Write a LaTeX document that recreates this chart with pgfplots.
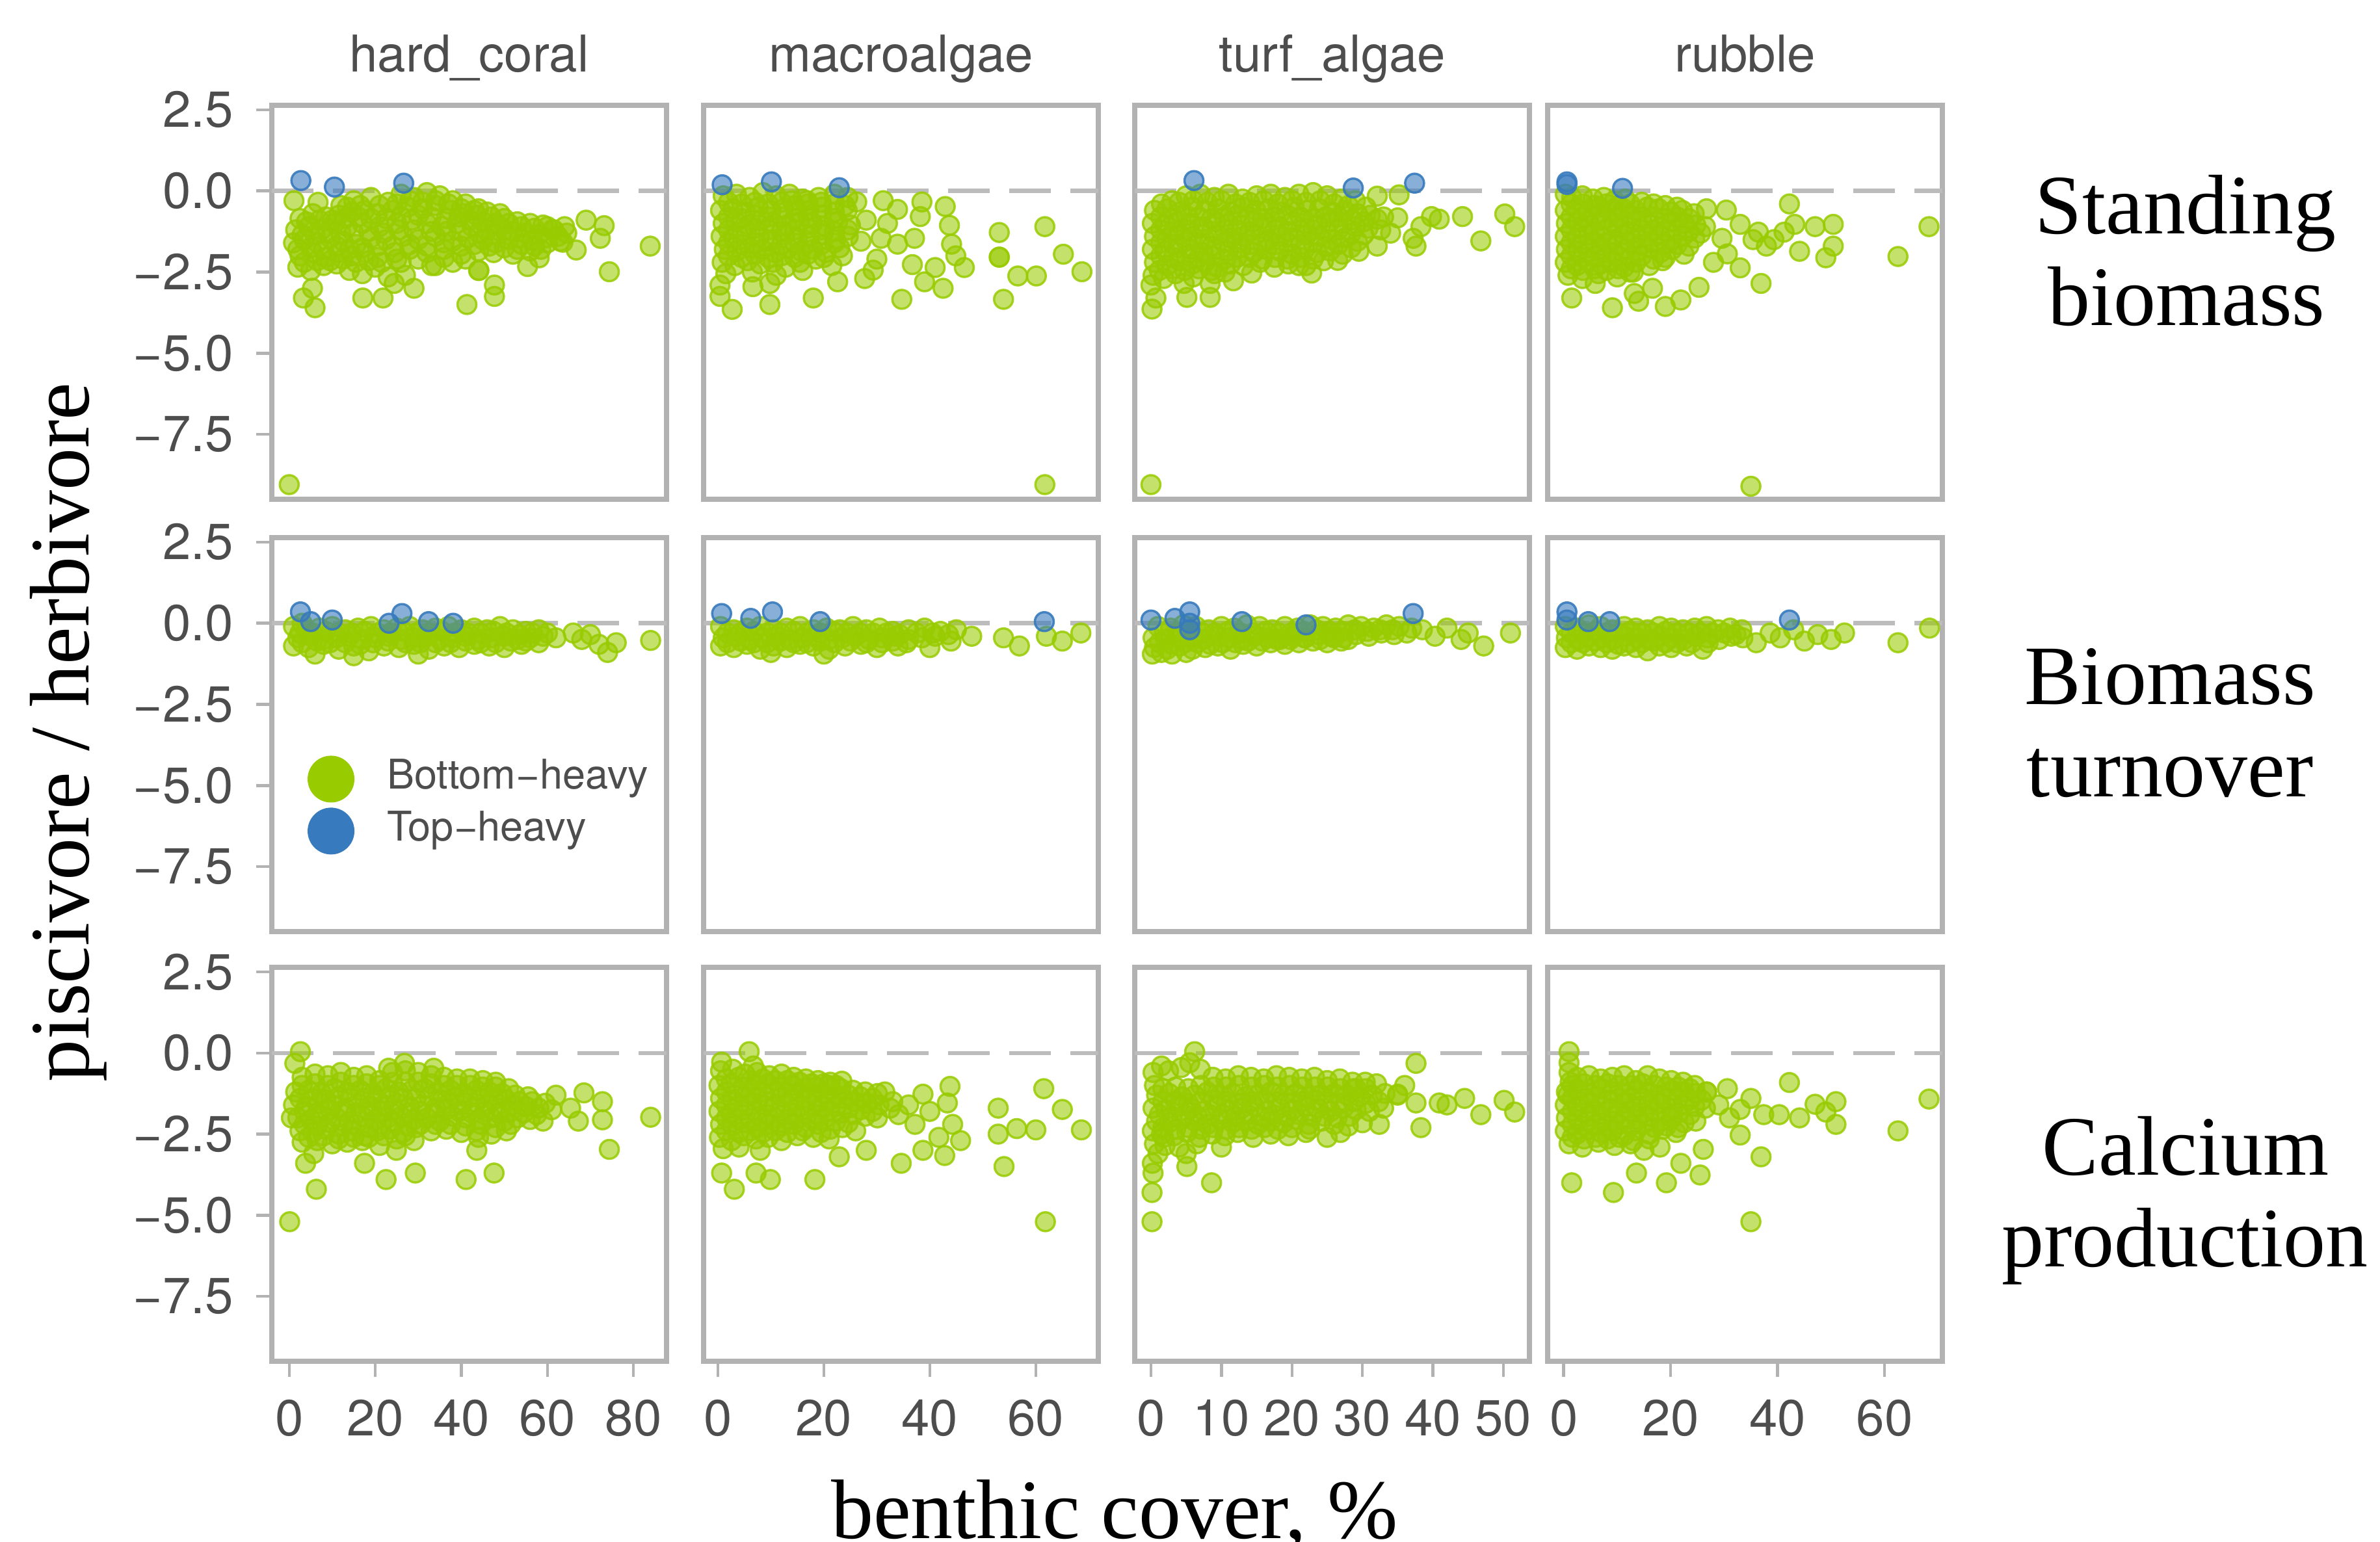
\documentclass[border=0pt]{standalone}
\usepackage{fontspec}
\setmainfont{Liberation Serif}
\newfontfamily\hv{TeX Gyre Heros}
\usepackage{pgfplots}
\pgfplotsset{compat=1.18}
\definecolor{boxgray}{RGB}{178,178,178}
\definecolor{zgray}{RGB}{188,188,188}
\definecolor{labgray}{RGB}{77,77,77}
\definecolor{bgreen}{RGB}{152,203,0}
\definecolor{bblue}{RGB}{55,122,189}
\pgfplotsset{
  panel/.style={scale only axis, width=60.7pt, height=60.6pt, anchor=south west,
    ymin=-9.5, ymax=2.64,
    axis line style={draw=boxgray, line width=0.8pt},
    tick style={draw=boxgray, line width=0.45pt},
    tick align=outside, major tick length=2.4pt,
    xtick pos=lower, ytick pos=lower,
    xtick=\empty, ytick=\empty,
    ticklabel style={font=\hv\fontsize{7.8}{9}\selectfont, text=labgray},
    every axis title shift=0pt,
    title style={font=\hv\fontsize{7.8}{9}\selectfont, text=labgray, at={(0.5,1)}, anchor=base, yshift=5.1pt, inner sep=0pt},
  },
  c1/.style={xmin=-4.05, xmax=87.7},
  c2/.style={xmin=-2.7, xmax=71.8},
  c3/.style={xmin=-2.3, xmax=53.7},
  c4/.style={xmin=-3.0, xmax=70.8},
  yt/.style={ytick={-7.5,-5,-2.5,0,2.5}, yticklabels={−7.5,−5.0,−2.5,0.0,2.5}},
  xt1/.style={xtick={0,20,40,60,80}, xticklabels={0,20,40,60,80}},
  xt2/.style={xtick={0,20,40,60}, xticklabels={0,20,40,60}},
  xt3/.style={xtick={0,10,20,30,40,50}, xticklabels={0,10,20,30,40,50}},
  gp/.style={only marks, mark=*, mark size=1.45pt, mark options={fill=bgreen, draw=bgreen, fill opacity=0.58, draw opacity=0.85, line width=0.35pt}, forget plot},
  bp/.style={only marks, mark=*, mark size=1.45pt, mark options={fill=bblue, draw=bblue, fill opacity=0.6, draw opacity=0.9, line width=0.35pt}, forget plot},
  zl/.style={draw=zgray, line width=0.65pt, dash pattern=on 6.4pt off 3pt, forget plot, mark=none},
  lgimg/.style={legend image code/.code={\path[draw=none,fill=none] (-3.4pt,-3.4pt) rectangle (3.4pt,3.4pt); \draw[##1] plot coordinates {(0pt,0pt)};}},
}
\begin{document}
\begin{tikzpicture}
\path[use as bounding box] (0,0) rectangle (366pt,237.2pt);
% ================= ROW 1: Standing biomass =================
\begin{axis}[panel, c1, yt, at={(41.8pt,160.4pt)}, title={hard\_coral}]
\addplot[zl] coordinates {(-4.05,0)(87.7,0)};
\addplot[gp] coordinates {
(12,-0.45)(15,-0.3)(19,-0.2)(23,-0.35)(26,-0.1)(29,-0.2)(32,-0.05)(35,-0.15)(38,-0.3)(41,-0.4)(44,-0.55)
(2.5,-0.85)(5.5,-0.7)(8.5,-0.8)(11.5,-0.75)(14.5,-0.65)(17.5,-0.6)(20.5,-0.7)(24,-0.6)(27.5,-0.5)(31,-0.55)(34,-0.45)(37.5,-0.6)(40.5,-0.7)(43.5,-0.75)(47,-0.8)(50,-0.85)(53,-0.95)(56,-1.0)(59,-1.05)
(1.5,-1.2)(4.5,-1.1)(7.5,-1.2)(10.5,-1.0)(13.5,-1.1)(17,-1.0)(21,-1.1)(25,-1.0)(28.5,-0.9)(32,-1.0)(35.5,-1.1)(39,-1.0)(42.5,-1.1)(46,-1.2)(49,-1.1)(52,-1.25)(55,-1.3)(58,-1.35)(61.5,-1.2)(64.5,-1.3)
(1,-1.6)(3.5,-1.5)(6.5,-1.6)(9.5,-1.45)(12.5,-1.55)(15.5,-1.65)(19,-1.45)(22.5,-1.5)(26.5,-1.4)(30,-1.5)(34,-1.4)(38,-1.55)(41.5,-1.45)(45,-1.5)(48,-1.6)(51,-1.5)(54,-1.65)(57,-1.7)(60,-1.6)(63,-1.55)
(2.5,-2.0)(5.5,-1.9)(8.5,-2.05)(11.5,-1.9)(14.5,-2.0)(17.5,-1.9)(20.5,-2.05)(24.5,-1.9)(28,-1.8)(32,-1.9)(36,-1.8)(40,-1.95)(44,-1.85)(47.5,-1.9)(52,-1.95)(56,-1.85)
(2,-2.35)(5,-2.45)(8,-2.3)(11,-2.25)(14,-2.45)(17,-2.55)(20,-2.35)(23,-2.65)(26,-2.2)(34,-2.3)(38,-2.2)(44,-2.45)
(13.5,-0.5)(16.5,-0.45)(21,-0.45)(25,-0.4)(28,-0.3)(31,-0.35)(34,-0.3)(37,-0.4)(40,-0.55)(43,-0.6)(46,-0.65)(49,-0.7)
(4,-0.95)(7,-0.9)(10,-0.9)(13,-0.85)(16,-0.8)(19,-0.85)(22.5,-0.85)(26,-0.8)(30,-0.75)(33,-0.8)(36.5,-0.85)(39.5,-0.8)(42,-0.9)(45,-0.95)(48,-1.0)(51,-1.0)(54,-1.1)(57,-1.15)(60,-1.1)
(3,-1.35)(6,-1.35)(9,-1.3)(12,-1.3)(15,-1.3)(18.5,-1.25)(22,-1.3)(25.5,-1.2)(29,-1.2)(33,-1.25)(36.5,-1.25)(40,-1.25)(44,-1.3)(47,-1.35)(50.5,-1.35)(53.5,-1.45)(56.5,-1.5)(59.5,-1.45)(62.5,-1.4)
(2,-1.8)(5,-1.75)(8,-1.8)(11,-1.7)(14,-1.8)(17,-1.75)(20.5,-1.7)(24,-1.7)(28,-1.65)(32,-1.7)(36,-1.6)(40,-1.7)(43,-1.65)(46.5,-1.7)(50,-1.75)(53,-1.8)(58.5,-1.8)
(3.5,-2.2)(6.5,-2.15)(9.5,-2.15)(12.5,-2.1)(15.5,-2.2)(18.5,-2.15)(21.5,-2.2)(25,-2.1)(30,-2.1)(36,-2.05)(41,-2.1)
(1.1,-0.3)(6.7,-0.35)(69,-0.9)(73.2,-1.07)(72.3,-1.46)(74.4,-2.49)(83.9,-1.7)(5.4,-3.0)(3.3,-3.3)(6.0,-3.6)(17.1,-3.3)(21.8,-3.3)(24.4,-2.85)(29,-3.0)(27,-2.6)(33.1,-2.3)(41.3,-3.5)(47.7,-2.9)(47.7,-3.25)(44.1,-2.45)(55.4,-2.33)(58.1,-2.06)(66.7,-1.82)(63.6,-1.58)(61.2,-1.19)(64,-1.1)(0,-9.05)
};
\addplot[bp] coordinates {(2.7,0.32)(10.5,0.12)(26.6,0.24)};
\end{axis}
\begin{axis}[panel, c2, at={(108.2pt,160.4pt)}, title={macroalgae}]
\addplot[zl] coordinates {(-2.7,0)(71.8,0)};
\addplot[gp] coordinates {
(1,-0.15)(3.5,-0.1)(6,-0.2)(8.5,-0.05)(11,-0.15)(13.5,-0.1)(16,-0.25)(19,-0.2)(22,-0.1)(24.5,-0.2)
(0.5,-0.6)(2.8,-0.55)(5.2,-0.65)(7.6,-0.5)(10,-0.6)(12.4,-0.55)(14.8,-0.65)(17.2,-0.6)(19.6,-0.5)(22,-0.65)(24.4,-0.6)
(1,-1.0)(3.4,-0.95)(5.8,-1.05)(8.2,-0.9)(10.6,-1.0)(13,-1.05)(15.4,-0.95)(17.8,-1.0)(20.2,-1.1)(22.6,-0.95)(25,-1.05)
(0.6,-1.4)(3,-1.45)(5.4,-1.35)(7.8,-1.4)(10.2,-1.5)(12.6,-1.35)(15,-1.45)(17.4,-1.4)(19.8,-1.35)(22.2,-1.5)(24.6,-1.4)
(1.2,-1.8)(3.6,-1.85)(6,-1.75)(8.4,-1.8)(10.8,-1.9)(13.2,-1.75)(15.6,-1.85)(18,-1.8)(20.4,-1.9)(23,-1.75)
(0.8,-2.2)(3.2,-2.3)(5.6,-2.15)(8,-2.25)(10.4,-2.2)(12.8,-2.35)(15.5,-2.2)(18.5,-2.1)(21.5,-2.3)(23.5,-2.0)
(1.5,-2.55)(6.5,-2.5)(11,-2.6)(16,-2.45)
(2,-0.35)(4.5,-0.4)(7,-0.35)(9.5,-0.4)(12,-0.35)(14.5,-0.45)(17,-0.4)(19.5,-0.35)(22,-0.4)(24,-0.45)
(2,-0.8)(4.5,-0.85)(7,-0.75)(9.5,-0.8)(12,-0.8)(14.5,-0.85)(17,-0.8)(19.5,-0.75)(22,-0.85)
(2,-1.2)(4.5,-1.25)(7,-1.15)(9.5,-1.2)(12,-1.25)(14.5,-1.2)(17,-1.15)(19.5,-1.2)(22,-1.25)(24.5,-1.2)
(2,-1.6)(4.5,-1.65)(7,-1.6)(9.5,-1.55)(12,-1.65)(14.5,-1.6)(17,-1.6)(19.5,-1.65)(22,-1.6)
(2,-2.0)(4.5,-2.05)(7,-1.95)(9.5,-2.05)(12,-2.0)(14.5,-2.05)(17,-1.95)(20,-2.05)
(0.4,-2.9)(0.4,-3.25)(2.7,-3.65)(6.6,-2.95)(9.8,-2.85)(9.8,-3.5)(18,-3.3)(22.6,-2.8)(14,-0.3)(16.8,-0.3)(26.2,-0.34)(31.2,-0.3)(33.9,-0.57)(38.5,-0.34)(38.2,-0.79)(42.9,-0.48)(43.7,-1.06)(44.1,-1.64)(44.9,-2.0)(46.5,-2.36)(42.5,-3.0)(39,-2.8)(34.7,-3.34)(36.7,-2.27)(41,-2.36)(27.7,-2.7)(29.3,-2.44)(30.8,-1.46)(33.9,-1.64)(37.1,-1.46)(27,-1.55)(30,-2.1)(28,-0.9)(32,-1.0)(53.1,-1.28)(53.1,-2.04)(53.1,-2.04)(53.9,-3.34)(56.6,-2.62)(60.1,-2.62)(61.7,-1.1)(65.2,-1.95)(68.7,-2.49)(61.7,-9.05)
};
\addplot[bp] coordinates {(0.8,0.19)(10.1,0.28)(22.9,0.1)};
\end{axis}
\begin{axis}[panel, c3, at={(174.5pt,160.4pt)}, title={turf\_algae}]
\addplot[zl] coordinates {(-2.3,0)(53.7,0)};
\addplot[gp] coordinates {
(3,-0.3)(5,-0.15)(7,-0.1)(9,-0.2)(11,-0.1)(13,-0.25)(15,-0.15)(17,-0.1)(19,-0.2)(21,-0.1)(23,-0.05)(25,-0.15)(27,-0.25)(29,-0.3)
(0.5,-0.6)(2.3,-0.55)(4.1,-0.65)(5.9,-0.5)(7.7,-0.6)(9.5,-0.55)(11.3,-0.65)(13.1,-0.5)(14.9,-0.6)(16.7,-0.55)(18.5,-0.65)(20.3,-0.5)(22.1,-0.6)(23.9,-0.55)(25.7,-0.65)(27.5,-0.6)(29.3,-0.7)(31.1,-0.75)(33,-0.8)
(0.2,-1.0)(2,-1.05)(3.8,-0.95)(5.6,-1.0)(7.4,-1.1)(9.2,-0.95)(11,-1.0)(12.8,-1.05)(14.6,-0.95)(16.4,-1.0)(18.2,-1.1)(20,-0.95)(21.8,-1.0)(23.6,-1.05)(25.4,-0.95)(27.2,-1.0)(29,-1.1)(30.8,-1.15)(32.6,-1.2)
(0.5,-1.4)(2.3,-1.45)(4.1,-1.35)(5.9,-1.4)(7.7,-1.5)(9.5,-1.35)(11.3,-1.45)(13.1,-1.4)(14.9,-1.35)(16.7,-1.5)(18.5,-1.4)(20.3,-1.45)(22.1,-1.35)(23.9,-1.4)(25.7,-1.5)(27.5,-1.45)(29.3,-1.55)
(0.2,-1.8)(2,-1.85)(3.8,-1.75)(5.6,-1.8)(7.4,-1.9)(9.2,-1.8)(11,-1.85)(12.8,-1.75)(14.6,-1.9)(16.4,-1.8)(18.2,-1.85)(20,-1.95)(21.8,-1.8)(23.6,-1.9)(25.4,-1.85)(27.2,-1.95)
(0.5,-2.2)(2.3,-2.3)(4.1,-2.15)(5.9,-2.25)(7.7,-2.2)(9.5,-2.35)(11.3,-2.25)(13.1,-2.3)(15.5,-2.2)(17.5,-2.35)(19.5,-2.25)(22,-2.3)(24.5,-2.15)
(0.3,-2.6)(1.8,-2.7)(3.5,-2.55)(6,-2.65)(9,-2.55)
(1.5,-0.4)(4,-0.35)(6,-0.3)(8,-0.35)(10,-0.3)(12,-0.4)(14,-0.35)(16,-0.3)(18,-0.4)(20,-0.3)(22,-0.35)(24,-0.3)(26,-0.4)(28,-0.45)(30.5,-0.5)
(1.4,-0.8)(3.2,-0.85)(5,-0.75)(6.8,-0.8)(8.6,-0.85)(10.4,-0.8)(12.2,-0.75)(14,-0.8)(15.8,-0.85)(17.6,-0.8)(19.4,-0.75)(21.2,-0.8)(23,-0.85)(24.8,-0.8)(26.6,-0.8)(28.4,-0.9)(30.2,-0.95)
(1.4,-1.2)(3.2,-1.25)(5,-1.2)(6.8,-1.15)(8.6,-1.25)(10.4,-1.2)(12.2,-1.2)(14,-1.25)(15.8,-1.15)(17.6,-1.2)(19.4,-1.25)(21.2,-1.2)(23,-1.2)(24.8,-1.25)(26.6,-1.2)(28.4,-1.3)(30.2,-1.35)
(1.4,-1.6)(3.2,-1.65)(5,-1.55)(6.8,-1.6)(8.6,-1.7)(10.4,-1.6)(12.2,-1.6)(14,-1.65)(15.8,-1.6)(17.6,-1.65)(19.4,-1.6)(21.2,-1.65)(23,-1.6)(24.8,-1.7)(26.6,-1.65)(28.4,-1.75)
(1.4,-2.0)(3.2,-2.05)(5,-2.0)(6.8,-2.05)(8.6,-2.0)(10.4,-2.1)(12.2,-2.05)(14,-2.05)(15.8,-2.1)(17.6,-2.05)(19.4,-2.1)(21.2,-2.05)(23,-2.1)
(1.2,-2.45)(3,-2.4)(4.8,-2.45)(6.8,-2.4)(8.6,-2.45)(10.5,-2.5)
(0.15,-3.64)(0.7,-3.3)(0,-2.9)(5.1,-3.28)(8.4,-3.28)(8.4,-2.85)(11.7,-2.77)(4.7,-2.85)(14.3,-2.53)(21,-2.3)(22.8,-2.53)(26.5,-2.14)(29.5,-1.86)(32.1,-1.7)(32.1,-0.87)(35,-0.83)(32.1,-0.16)(35.2,-0.12)(37.2,-1.46)(37.6,-1.7)(39.8,-0.79)(40.9,-0.87)(44.2,-0.79)(46.8,-1.54)(50.2,-0.71)(51.6,-1.1)(38.3,-1.1)(34,-1.3)(0,-9.05)
};
\addplot[bp] coordinates {(6.1,0.32)(28.7,0.09)(37.4,0.24)};
\end{axis}
\begin{axis}[panel, c4, at={(238.0pt,160.4pt)}, title={rubble}]
\addplot[zl] coordinates {(-3.0,0)(70.8,0)};
\addplot[gp] coordinates {
(0.3,-0.1)(1.5,-0.2)(3.5,-0.15)(5.5,-0.25)(7.5,-0.2)(9.5,-0.3)(11.5,-0.25)
(0.3,-0.6)(2.4,-0.55)(4.6,-0.65)(6.8,-0.5)(9,-0.6)(11.2,-0.55)(13.4,-0.6)(15.6,-0.5)(17.8,-0.55)(20,-0.65)(22.2,-0.6)(24.4,-0.7)
(0.5,-1.0)(2.7,-0.95)(4.9,-1.05)(7.1,-0.9)(9.3,-1.0)(11.5,-1.05)(13.7,-0.95)(15.9,-1.0)(18.1,-1.1)(20.3,-0.95)(22.5,-1.0)(24.7,-1.05)(26.5,-1.1)
(0.3,-1.4)(2.5,-1.45)(4.7,-1.35)(6.9,-1.4)(9.1,-1.5)(11.3,-1.35)(13.5,-1.45)(15.7,-1.4)(17.9,-1.35)(20.1,-1.5)(22.3,-1.4)(24.5,-1.45)
(0.5,-1.8)(2.7,-1.85)(4.9,-1.75)(7.1,-1.8)(9.3,-1.9)(11.5,-1.8)(13.7,-1.85)(15.9,-1.75)(18.1,-1.9)(20.3,-1.8)(22.5,-1.95)
(0.3,-2.2)(2.5,-2.3)(4.7,-2.15)(6.9,-2.25)(9.1,-2.2)(11.3,-2.35)(13.5,-2.2)(16,-2.3)(18.5,-2.15)
(0.8,-2.6)(3.5,-2.7)(6.5,-2.55)(10,-2.65)(13,-2.5)
(1.4,-0.4)(3.6,-0.4)(5.8,-0.45)(8,-0.4)(10.2,-0.45)(12.4,-0.4)(14.6,-0.35)(16.8,-0.4)(19,-0.45)(21.2,-0.5)
(1.4,-0.8)(3.6,-0.8)(5.8,-0.75)(8,-0.85)(10.2,-0.8)(12.4,-0.75)(14.6,-0.8)(16.8,-0.8)(19,-0.85)(21.2,-0.8)(23.4,-0.85)
(1.4,-1.2)(3.6,-1.15)(5.8,-1.25)(8,-1.2)(10.2,-1.15)(12.4,-1.25)(14.6,-1.2)(16.8,-1.2)(19,-1.25)(21.2,-1.2)(23.4,-1.25)(25.6,-1.3)
(1.4,-1.6)(3.6,-1.65)(5.8,-1.6)(8,-1.6)(10.2,-1.65)(12.4,-1.6)(14.6,-1.65)(16.8,-1.6)(19,-1.65)(21.2,-1.65)(23.4,-1.7)
(1.4,-2.0)(3.6,-2.05)(5.8,-2.0)(8,-2.05)(10.2,-2.0)(12.4,-2.05)(14.6,-2.0)(16.8,-2.1)(19,-2.05)
(1.4,-2.4)(3.6,-2.45)(5.8,-2.4)(8,-2.45)(10.2,-2.4)(12.4,-2.5)
(1.5,-3.3)(9.1,-3.6)(13.2,-3.16)(14,-3.4)(19,-3.56)(21.9,-3.36)(25.3,-2.97)(16.6,-3.0)(5.9,-2.85)(26.7,-0.55)(30.4,-0.59)(33,-1.03)(36.4,-1.27)(37.9,-1.7)(42.2,-0.4)(43.2,-1.03)(44.1,-1.86)(47,-1.1)(50.4,-1.03)(50.4,-1.7)(49,-2.06)(36.9,-2.85)(33,-2.37)(30.6,-1.94)(29.6,-1.46)(35.4,-1.5)(62.5,-2.02)(68.3,-1.1)(41.2,-1.27)(39.3,-1.5)(28,-2.2)(35,-9.1)
};
\addplot[bp] coordinates {(0.6,0.28)(0.6,0.2)(11,0.08)};
\end{axis}
% ================= ROW 2: Biomass turnover =================
\begin{axis}[panel, c1, yt, at={(41.8pt,93.9pt)},
  legend style={at={(0.094,0.4455)}, anchor=north west, draw=none, fill=none, inner sep=0pt, outer sep=0pt,
    row sep=0.9pt, column sep=4.7pt, font=\hv\fontsize{6.3}{7}\selectfont, text=labgray, nodes={inner sep=0.5pt}},
  legend cell align=left]
\addlegendimage{lgimg, only marks, mark=*, mark size=3.4pt, color=bgreen, mark options={draw=bgreen, fill=bgreen}}
\addlegendentry{Bottom−heavy}
\addlegendimage{lgimg, only marks, mark=*, mark size=3.4pt, color=bblue, mark options={draw=bblue, fill=bblue}}
\addlegendentry{Top−heavy}
\addplot[zl] coordinates {(-4.05,0)(87.7,0)};
\addplot[gp] coordinates {
(1,-0.1)(4,-0.2)(7,-0.15)(10,-0.1)(13,-0.2)(16,-0.15)(19,-0.1)(22,-0.2)(25,-0.15)(28,-0.1)(31,-0.2)(34,-0.15)(37,-0.1)(40,-0.2)(43,-0.15)(46,-0.2)(49,-0.1)(52,-0.2)(55,-0.25)(58,-0.2)
(2,-0.45)(5,-0.4)(8,-0.5)(11,-0.45)(14,-0.4)(17,-0.5)(20,-0.45)(23,-0.4)(26,-0.5)(29,-0.45)(32,-0.4)(35,-0.5)(38,-0.45)(41,-0.4)(44,-0.5)(47,-0.45)(50,-0.4)(53,-0.5)(56,-0.45)(59,-0.4)(62,-0.45)
(1,-0.7)(4.5,-0.75)(8,-0.65)(11.5,-0.8)(15,-0.7)(18.5,-0.85)(22,-0.7)(25.5,-0.75)(29,-0.65)(32.5,-0.8)(36,-0.7)(39.5,-0.75)(43,-0.65)(46.5,-0.7)(50,-0.75)(54,-0.65)
(2.5,-0.3)(5.5,-0.3)(8.5,-0.25)(11.5,-0.3)(14.5,-0.3)(17.5,-0.25)(20.5,-0.3)(23.5,-0.3)(26.5,-0.25)(29.5,-0.3)(32.5,-0.3)(35.5,-0.25)(38.5,-0.3)(41.5,-0.3)(44.5,-0.3)(47.5,-0.25)(50.5,-0.3)(53.5,-0.35)(56.5,-0.3)(60,-0.3)
(3,-0.6)(6.5,-0.55)(9.5,-0.6)(13,-0.6)(16.5,-0.65)(19.5,-0.6)(23,-0.55)(27,-0.6)(30.5,-0.6)(34,-0.6)(37.5,-0.6)(41,-0.55)(44.5,-0.6)(48,-0.6)(51.5,-0.55)(55,-0.55)(58,-0.6)
(66,-0.3)(68,-0.5)(70,-0.35)(72,-0.65)(74,-0.9)(76,-0.6)(84,-0.53)(6,-0.95)(15,-1.0)(30,-0.95)(3,0.0)
};
\addplot[bp] coordinates {(2.6,0.35)(5,0.05)(10,0.1)(23.2,0.0)(26.2,0.3)(32.4,0.05)(38.1,0.0)};
\end{axis}
\begin{axis}[panel, c2, at={(108.2pt,93.9pt)}]
\addplot[zl] coordinates {(-2.7,0)(71.8,0)};
\addplot[gp] coordinates {
(0.5,-0.1)(3,-0.2)(5.5,-0.15)(8,-0.1)(10.5,-0.2)(13,-0.15)(15.5,-0.1)(18,-0.2)(20.5,-0.15)(23,-0.2)(25.5,-0.1)(28,-0.2)(30.5,-0.15)(33,-0.25)(36,-0.2)(39,-0.15)(42,-0.25)(45,-0.2)
(1,-0.45)(3.5,-0.4)(6,-0.5)(8.5,-0.45)(11,-0.4)(13.5,-0.5)(16,-0.45)(18.5,-0.4)(21,-0.5)(23.5,-0.45)(26,-0.4)(28.5,-0.5)(31,-0.45)(33.5,-0.4)(36,-0.5)(38.5,-0.45)(41,-0.4)
(0.5,-0.7)(3,-0.75)(5.5,-0.65)(8,-0.8)(10.5,-0.7)(13,-0.75)(15.5,-0.65)(18,-0.7)(21,-0.8)(24,-0.7)(27,-0.65)(30,-0.75)(34,-0.7)
(1.8,-0.3)(4.3,-0.3)(6.8,-0.25)(9.3,-0.3)(11.8,-0.3)(14.3,-0.25)(16.8,-0.3)(19.3,-0.3)(21.8,-0.25)(24.3,-0.3)(26.8,-0.3)(29.3,-0.3)(31.8,-0.3)(34.3,-0.35)(37.5,-0.3)(40.5,-0.3)(43.5,-0.35)
(1.8,-0.6)(4.3,-0.55)(6.8,-0.6)(9.3,-0.6)(11.8,-0.55)(14.3,-0.6)(16.8,-0.6)(19.3,-0.55)(22,-0.6)(25,-0.55)(28,-0.6)(31,-0.6)(33,-0.55)
(35.6,-0.6)(40,-0.75)(44,-0.55)(47.9,-0.4)(53.9,-0.45)(56.9,-0.7)(62,-0.4)(65,-0.55)(68.5,-0.3)(10,-0.9)(20,-0.95)
};
\addplot[bp] coordinates {(0.7,0.3)(6.2,0.15)(10.3,0.35)(19.3,0.05)(61.6,0.05)};
\end{axis}
\begin{axis}[panel, c3, at={(174.5pt,93.9pt)}]
\addplot[zl] coordinates {(-2.3,0)(53.7,0)};
\addplot[gp] coordinates {
(1,-0.1)(2.8,-0.15)(4.6,-0.05)(6.4,-0.1)(8.2,-0.2)(10,-0.1)(11.8,-0.15)(13.6,-0.05)(15.4,-0.1)(17.2,-0.2)(19,-0.1)(20.8,-0.15)(22.6,-0.05)(24.4,-0.1)(26.2,-0.15)(28,-0.05)(29.8,-0.1)(31.6,-0.15)(33.4,-0.05)(35.2,-0.1)(37,-0.15)
(0.3,-0.45)(2.1,-0.5)(3.9,-0.4)(5.7,-0.45)(7.5,-0.5)(9.3,-0.4)(11.1,-0.45)(12.9,-0.5)(14.7,-0.4)(16.5,-0.45)(18.3,-0.5)(20.1,-0.4)(21.9,-0.45)(23.7,-0.35)(25.5,-0.4)(27.3,-0.45)(29.1,-0.35)(30.9,-0.4)(32.7,-0.3)(34.5,-0.35)(36.3,-0.3)
(0.5,-0.75)(2.3,-0.8)(4.1,-0.7)(5.9,-0.8)(7.7,-0.75)(9.5,-0.7)(11.3,-0.8)(13.1,-0.65)(15,-0.7)(17,-0.6)(19,-0.65)(21,-0.6)(23,-0.55)(25,-0.6)(27,-0.55)
(0.2,-0.95)(1.5,-0.9)(3,-0.95)(5,-0.9)
(1.9,-0.3)(3.7,-0.3)(5.5,-0.25)(7.3,-0.3)(9.1,-0.3)(10.9,-0.25)(12.7,-0.3)(14.5,-0.3)(16.3,-0.25)(18.1,-0.3)(19.9,-0.3)(21.7,-0.25)(23.5,-0.2)(25.3,-0.25)(27.1,-0.25)(28.9,-0.2)(30.7,-0.25)(32.5,-0.2)(34.3,-0.2)
(1.2,-0.6)(3,-0.65)(4.8,-0.6)(6.6,-0.6)(8.4,-0.65)(10.2,-0.6)(12,-0.6)(13.8,-0.55)(15.8,-0.55)(17.8,-0.5)(19.8,-0.5)(21.8,-0.45)(24,-0.5)(26,-0.45)(28,-0.5)
(40.3,-0.4)(44,-0.5)(47.2,-0.7)(51,-0.3)(38.5,-0.2)(42,-0.15)(45,-0.3)
};
\addplot[bp] coordinates {(0,0.1)(3.4,0.15)(5.5,0.35)(5.5,0.0)(5.5,-0.2)(12.9,0.05)(22,-0.05)(37.2,0.3)};
\end{axis}
\begin{axis}[panel, c4, at={(238.0pt,93.9pt)}]
\addplot[zl] coordinates {(-3.0,0)(70.8,0)};
\addplot[gp] coordinates {
(0.3,-0.1)(2.5,-0.15)(4.7,-0.05)(6.9,-0.1)(9.1,-0.2)(11.3,-0.1)(13.5,-0.15)(15.7,-0.2)(17.9,-0.1)(20.1,-0.15)(22.3,-0.2)(24.5,-0.15)(26.7,-0.1)(28.9,-0.2)(31.1,-0.15)(33.3,-0.2)
(0.5,-0.45)(2.7,-0.5)(4.9,-0.4)(7.1,-0.45)(9.3,-0.5)(11.5,-0.4)(13.7,-0.45)(15.9,-0.5)(18.1,-0.4)(20.3,-0.45)(22.5,-0.5)(24.7,-0.4)(26.9,-0.45)(29.1,-0.5)(31.3,-0.4)(33.5,-0.45)
(0.3,-0.75)(2.5,-0.8)(4.7,-0.7)(6.9,-0.75)(9.1,-0.8)(11.3,-0.7)(13.5,-0.75)(15.7,-0.85)(17.9,-0.7)(20.1,-0.75)(23,-0.7)(26,-0.8)
(1.4,-0.3)(3.6,-0.3)(5.8,-0.25)(8,-0.3)(10.2,-0.3)(12.4,-0.25)(14.6,-0.3)(16.8,-0.3)(19,-0.25)(21.2,-0.3)(23.4,-0.3)(25.6,-0.3)(27.8,-0.3)(30,-0.3)(32.2,-0.35)
(1.4,-0.6)(3.6,-0.6)(5.8,-0.55)(8,-0.6)(10.2,-0.65)(12.4,-0.6)(14.6,-0.6)(16.8,-0.55)(19,-0.6)(21.2,-0.6)(24,-0.6)(27,-0.6)
(38.6,-0.3)(40.5,-0.45)(43,-0.2)(45,-0.55)(47.5,-0.35)(50,-0.5)(52.5,-0.3)(62.5,-0.6)(68.4,-0.15)(36,-0.6)
};
\addplot[bp] coordinates {(0.6,0.35)(0.6,0.1)(4.6,0.05)(8.6,0.05)(42.2,0.1)};
\end{axis}
% ================= ROW 3: Calcium production =================
\begin{axis}[panel, c1, yt, xt1, at={(41.8pt,27.8pt)}]
\addplot[zl] coordinates {(-4.05,0)(87.7,0)};
\addplot[gp] coordinates {
(3,-0.75)(6,-0.65)(9,-0.7)(12,-0.6)(15,-0.75)(18,-0.7)(21,-0.85)(24,-0.6)(27,-0.55)(30,-0.6)(33,-0.7)(36,-0.75)(39,-0.8)(42,-0.8)(45,-0.85)(48,-0.9)
(1.5,-1.2)(4.5,-1.15)(7.5,-1.25)(10.5,-1.1)(13.5,-1.2)(16.5,-1.15)(19.5,-1.25)(22.5,-1.1)(25.5,-1.2)(28.5,-1.15)(31.5,-1.1)(34.5,-1.2)(37.5,-1.15)(40.5,-1.25)(43.5,-1.15)(46.5,-1.2)(49.5,-1.25)(52.5,-1.3)(55.5,-1.35)
(1,-1.6)(4,-1.65)(7,-1.55)(10,-1.6)(13,-1.7)(16,-1.55)(19,-1.65)(22,-1.6)(25,-1.55)(28,-1.65)(31,-1.6)(34,-1.7)(37,-1.55)(40,-1.6)(43,-1.65)(46,-1.6)(49,-1.7)(52,-1.6)(55,-1.65)(58,-1.7)(61,-1.75)
(2,-2.0)(5,-2.05)(8,-1.95)(11,-2.0)(14,-2.1)(17,-1.95)(20,-2.05)(23,-2.0)(26,-1.95)(29,-2.05)(32,-2.0)(35,-2.1)(38,-1.95)(41,-2.0)(44,-2.05)(47,-2.0)(50,-2.1)(53,-2.0)(56,-2.05)(59,-2.1)
(2.5,-2.4)(5.5,-2.45)(8.5,-2.35)(11.5,-2.5)(14.5,-2.4)(17.5,-2.55)(20.5,-2.4)(23.5,-2.35)(26.5,-2.45)(29.5,-2.3)(33,-2.4)(36.5,-2.35)(40,-2.45)(43.5,-2.4)(47,-2.5)(50.5,-2.4)
(3,-2.75)(6.5,-2.7)(10,-2.8)(13.5,-2.75)(17,-2.7)(21,-2.85)(25,-2.65)(29,-2.7)(44,-2.6)
(3,-1.0)(6,-0.95)(9,-1.0)(12,-0.9)(15,-1.0)(18,-0.95)(21,-1.0)(24,-0.9)(27,-0.9)(30,-0.9)(33,-0.95)(36,-1.0)(39,-1.0)(42,-1.0)(45,-1.05)(48,-1.05)(51,-1.1)
(2.5,-1.4)(5.5,-1.4)(8.5,-1.45)(11.5,-1.35)(14.5,-1.4)(17.5,-1.4)(20.5,-1.45)(23.5,-1.35)(26.5,-1.4)(29.5,-1.4)(32.5,-1.35)(35.5,-1.45)(38.5,-1.35)(41.5,-1.4)(44.5,-1.4)(47.5,-1.45)(50.5,-1.45)(53.5,-1.5)(56.5,-1.5)(59.5,-1.55)
(3.5,-1.8)(6.5,-1.85)(9.5,-1.75)(12.5,-1.8)(15.5,-1.85)(18.5,-1.8)(21.5,-1.8)(24.5,-1.75)(27.5,-1.85)(30.5,-1.8)(33.5,-1.85)(36.5,-1.75)(39.5,-1.8)(42.5,-1.85)(45.5,-1.8)(48.5,-1.85)(51.5,-1.8)(54.5,-1.85)(57.5,-1.9)
(3.5,-2.2)(6.5,-2.25)(9.5,-2.15)(12.5,-2.25)(15.5,-2.2)(18.5,-2.3)(21.5,-2.2)(24.5,-2.15)(27.5,-2.25)(30.5,-2.2)(34,-2.2)(37.5,-2.2)(41,-2.25)(44.5,-2.2)(48,-2.3)(51.5,-2.2)
(4.5,-2.6)(8,-2.55)(11.5,-2.65)(15,-2.6)(18.5,-2.6)(22,-2.55)(27,-2.55)
(2.6,0.04)(1.3,-0.32)(0.1,-5.2)(6.3,-4.2)(3.8,-3.4)(5.7,-3.1)(22.5,-3.9)(29.3,-3.7)(41.1,-3.9)(47.6,-3.7)(17.5,-3.4)(24.9,-3.0)(43.6,-3.0)(23.1,-0.47)(26.8,-0.32)(33.6,-0.47)(68.5,-1.23)(72.8,-1.5)(72.8,-2.06)(74.4,-2.97)(84,-1.98)(65.4,-1.7)(67.2,-2.1)(62,-1.3)(0.5,-2.0)
};
\end{axis}
\begin{axis}[panel, c2, xt2, at={(108.2pt,27.8pt)}]
\addplot[zl] coordinates {(-2.7,0)(71.8,0)};
\addplot[gp] coordinates {
(0.5,-0.55)(2.8,-0.5)(5.1,-0.65)(7.4,-0.6)(9.7,-0.7)(12,-0.65)(14.3,-0.75)(16.6,-0.8)(18.9,-0.85)(21.2,-0.9)
(0.2,-1.0)(2.5,-0.95)(4.8,-1.05)(7.1,-1.0)(9.4,-0.95)(11.7,-1.05)(14,-1.0)(16.3,-1.1)(18.6,-1.05)(20.9,-1.0)(23.2,-1.1)(25.5,-1.15)(27.8,-1.2)(30.1,-1.25)
(0.5,-1.4)(2.8,-1.45)(5.1,-1.35)(7.4,-1.4)(9.7,-1.5)(12,-1.35)(14.3,-1.45)(16.6,-1.4)(18.9,-1.5)(21.2,-1.45)(23.5,-1.4)(25.8,-1.5)(28.1,-1.55)(30.4,-1.6)(32.5,-1.7)
(0.2,-1.8)(2.5,-1.85)(4.8,-1.75)(7.1,-1.8)(9.4,-1.9)(11.7,-1.8)(14,-1.85)(16.3,-1.75)(18.6,-1.9)(20.9,-1.8)(23.2,-1.85)(25.5,-1.9)(27.8,-1.95)(30.1,-2.0)
(0.5,-2.2)(2.8,-2.25)(5.1,-2.15)(7.4,-2.3)(9.7,-2.2)(12,-2.25)(14.3,-2.2)(16.6,-2.3)(18.9,-2.2)(21.2,-2.35)(23.5,-2.3)(26,-2.4)
(0.3,-2.6)(2.6,-2.7)(4.9,-2.55)(7.2,-2.65)(9.5,-2.6)(12,-2.7)(15,-2.55)(18,-2.6)(21,-2.65)
(1,-2.95)(4,-2.9)(8,-3.0)
(1.6,-0.8)(3.9,-0.75)(6.2,-0.85)(8.5,-0.8)(10.8,-0.85)(13.1,-0.85)(15.4,-0.9)(17.7,-0.95)(20,-0.95)(22.3,-1.0)
(1.6,-1.2)(3.9,-1.2)(6.2,-1.25)(8.5,-1.2)(10.8,-1.2)(13.1,-1.25)(15.4,-1.2)(17.7,-1.25)(20,-1.25)(22.3,-1.3)(24.6,-1.3)(26.9,-1.35)(29.2,-1.4)
(1.6,-1.6)(3.9,-1.65)(6.2,-1.6)(8.5,-1.6)(10.8,-1.65)(13.1,-1.6)(15.4,-1.65)(17.7,-1.6)(20,-1.65)(22.3,-1.65)(24.6,-1.7)(26.9,-1.75)(29.2,-1.8)
(1.6,-2.0)(3.9,-2.05)(6.2,-2.0)(8.5,-2.05)(10.8,-2.0)(13.1,-2.05)(15.4,-2.0)(17.7,-2.05)(20,-2.05)(22.3,-2.1)(24.6,-2.15)
(1.6,-2.4)(3.9,-2.45)(6.2,-2.4)(8.5,-2.45)(10.8,-2.4)(13.1,-2.45)(16,-2.4)(19.5,-2.45)
(5.9,0.04)(0.7,-0.28)(6.7,-0.4)(0.7,-3.7)(3.1,-4.2)(7.2,-3.7)(9.9,-3.9)(18.3,-3.9)(23.4,-0.87)(22.9,-3.2)(28,-3.0)(31.5,-1.2)(34.6,-3.4)(38.7,-1.27)(43.8,-1.03)(43.3,-1.54)(44.3,-2.2)(41.7,-2.6)(38.7,-3.0)(42.8,-3.16)(45.8,-2.7)(34.1,-1.9)(37.2,-2.2)(52.9,-1.7)(52.9,-2.5)(54,-3.5)(56.4,-2.33)(60,-2.37)(61.5,-1.1)(61.8,-5.2)(65,-1.74)(68.6,-2.37)(33,-1.5)(36,-1.6)(40,-1.8)
};
\end{axis}
\begin{axis}[panel, c3, xt3, at={(174.5pt,27.8pt)}]
\addplot[zl] coordinates {(-2.3,0)(53.7,0)};
\addplot[gp] coordinates {
(0.3,-0.6)(1.5,-0.4)(0.5,-1.0)(0.2,-2.4)(0.5,-2.8)(1,-3.1)(0.2,-3.4)(1.8,-2.6)
(2.5,-0.55)(4.3,-0.45)(5.5,-0.3)(7,-0.5)(8.8,-0.75)(10.6,-0.8)(12.4,-0.7)(14.2,-0.75)(16,-0.8)(17.8,-0.7)(19.6,-0.75)(21.4,-0.8)(23.2,-0.75)(25,-0.85)(26.8,-0.8)(28.6,-0.9)(30.4,-0.9)
(0.8,-1.3)(2.6,-1.25)(4.4,-1.35)(6.2,-1.3)(8,-1.2)(9.8,-1.3)(11.6,-1.25)(13.4,-1.35)(15.2,-1.3)(17,-1.2)(18.8,-1.3)(20.6,-1.25)(22.4,-1.35)(24.2,-1.3)(26,-1.25)(27.8,-1.3)(29.6,-1.35)(31.4,-1.3)(33.2,-1.25)(35,-1.3)
(0.3,-1.7)(2.1,-1.75)(3.9,-1.65)(5.7,-1.7)(7.5,-1.8)(9.3,-1.65)(11.1,-1.75)(12.9,-1.7)(14.7,-1.65)(16.5,-1.8)(18.3,-1.7)(20.1,-1.75)(21.9,-1.65)(23.7,-1.7)(25.5,-1.8)(27.3,-1.7)(29.1,-1.75)(31,-1.8)(33,-1.7)
(0.8,-2.1)(2.6,-2.15)(4.4,-2.05)(6.2,-2.1)(8,-2.2)(9.8,-2.05)(11.6,-2.15)(13.4,-2.1)(15.2,-2.2)(17,-2.1)(18.8,-2.15)(20.6,-2.05)(22.4,-2.2)(24.2,-2.1)(26,-2.2)(28,-2.25)(30,-2.15)
(1.5,-2.5)(3.3,-2.55)(5.1,-2.45)(6.9,-2.6)(8.7,-2.5)(10.5,-2.55)(12.3,-2.45)(14.5,-2.6)(17,-2.5)(19.5,-2.55)(22,-2.45)(25,-2.6)
(2,-2.85)(4,-2.9)(5,-3.1)(6.5,-2.8)(10,-2.9)
(1.7,-1.1)(3.5,-1.05)(5.3,-1.1)(7.1,-1.0)(8.9,-1.05)(10.7,-1.05)(12.5,-1.0)(14.3,-1.05)(16.1,-1.0)(17.9,-1.05)(19.7,-1.0)(21.5,-1.05)(23.3,-1.05)(25.1,-1.05)(26.9,-1.1)(28.7,-1.1)(30.5,-1.1)
(1.7,-1.5)(3.5,-1.5)(5.3,-1.55)(7.1,-1.5)(8.9,-1.45)(10.7,-1.5)(12.5,-1.55)(14.3,-1.5)(16.1,-1.45)(17.9,-1.5)(19.7,-1.55)(21.5,-1.5)(23.3,-1.45)(25.1,-1.5)(26.9,-1.55)(28.7,-1.5)(30.5,-1.55)(32.3,-1.5)
(1.2,-1.9)(3,-1.95)(4.8,-1.9)(6.6,-1.95)(8.4,-1.9)(10.2,-1.9)(12,-1.95)(13.8,-1.9)(15.6,-1.95)(17.4,-1.9)(19.2,-1.95)(21,-1.9)(22.8,-1.95)(24.6,-1.95)(26.4,-2.0)(28.2,-1.95)
(1.7,-2.3)(3.5,-2.35)(5.3,-2.3)(7.1,-2.35)(8.9,-2.3)(10.7,-2.35)(12.5,-2.3)(14.3,-2.35)(16.1,-2.3)(18,-2.35)(20,-2.3)(22.5,-2.35)
(6.2,0.04)(0.15,-5.2)(0.15,-4.3)(0.3,-3.7)(5.1,-3.5)(8.6,-4.0)(37.6,-0.32)(38.3,-2.3)(37.6,-1.54)(44.5,-1.4)(46.8,-1.9)(50.1,-1.46)(51.6,-1.82)(40.9,-1.54)(32.4,-2.2)(29.1,-1.1)(32,-0.95)(35,-1.27)(26.9,-2.45)(42,-1.6)(36,-1.0)
};
\end{axis}
\begin{axis}[panel, c4, xt2, at={(238.0pt,27.8pt)}]
\addplot[zl] coordinates {(-3.0,0)(70.8,0)};
\addplot[gp] coordinates {
(1,0.04)(1,-0.3)(1,-0.6)(1.2,-0.9)(0.8,-1.3)
(2.5,-0.75)(4.7,-0.7)(6.9,-0.8)(9.1,-0.75)(11.3,-0.7)(13.5,-0.85)(15.7,-0.7)(17.9,-0.8)(20.1,-0.85)(22.3,-0.9)(24.5,-1.0)
(0.5,-1.2)(2.7,-1.15)(4.9,-1.25)(7.1,-1.1)(9.3,-1.2)(11.5,-1.25)(13.7,-1.15)(15.9,-1.2)(18.1,-1.3)(20.3,-1.15)(22.5,-1.2)(24.7,-1.25)(26.7,-1.2)
(0.3,-1.6)(2.5,-1.65)(4.7,-1.55)(6.9,-1.6)(9.1,-1.7)(11.3,-1.55)(13.5,-1.65)(15.7,-1.6)(17.9,-1.55)(20.1,-1.7)(22.3,-1.6)(24.5,-1.65)(26.5,-1.7)
(0.5,-2.0)(2.7,-2.05)(4.9,-1.95)(7.1,-2.0)(9.3,-2.1)(11.5,-2.0)(13.7,-2.05)(15.9,-1.95)(18.1,-2.1)(20.3,-2.0)(22.5,-2.15)(24.7,-2.1)
(0.3,-2.4)(2.5,-2.5)(4.7,-2.35)(6.9,-2.45)(9.1,-2.4)(11.3,-2.55)(13.5,-2.4)(16,-2.5)(18.5,-2.35)(21,-2.45)
(1,-2.8)(3.5,-2.9)(6.5,-2.75)(9.5,-2.85)(12.5,-2.8)(15,-3.0)(18,-2.9)
(1.6,-1.0)(3.8,-0.95)(6,-1.0)(8.2,-0.95)(10.4,-1.0)(12.6,-1.0)(14.8,-0.95)(17,-1.0)(19.2,-1.05)(21.4,-1.05)(23.6,-1.1)
(1.6,-1.4)(3.8,-1.4)(6,-1.35)(8.2,-1.45)(10.4,-1.4)(12.6,-1.4)(14.8,-1.4)(17,-1.45)(19.2,-1.4)(21.4,-1.4)(23.6,-1.45)(25.8,-1.45)
(1.6,-1.8)(3.8,-1.85)(6,-1.8)(8.2,-1.8)(10.4,-1.85)(12.6,-1.8)(14.8,-1.85)(17,-1.8)(19.2,-1.85)(21.4,-1.85)(23.6,-1.9)
(1.6,-2.2)(3.8,-2.25)(6,-2.2)(8.2,-2.25)(10.4,-2.2)(12.6,-2.25)(14.8,-2.2)(17,-2.3)(19.2,-2.25)(21.4,-2.3)
(1.6,-2.6)(3.8,-2.65)(6,-2.6)(8.2,-2.65)(10.4,-2.6)(13,-2.7)(16,-2.65)
(1.5,-4.0)(9.3,-4.3)(13.6,-3.7)(19.2,-4.0)(21.9,-3.4)(25.5,-3.76)(26.1,-2.97)(36.9,-3.2)(35,-5.2)(42.2,-0.91)(50.9,-1.5)(50.9,-2.2)(62.5,-2.4)(68.3,-1.42)(49,-1.82)(44.1,-2.0)(40.3,-1.9)(37.4,-1.9)(33,-2.53)(30.6,-1.1)(26.7,-1.2)(33,-1.74)(47,-1.58)(29,-1.6)(31,-2.0)(35,-1.4)
};
\end{axis}
% ================= labels =================
\begin{scope}[every node/.style={font=\fontsize{13}{14.1}\selectfont, inner sep=0pt, anchor=base}]
\node at (336.1pt,201.2pt) {Standing};
\node at (336.2pt,187.1pt) {biomass};
\node at (333.7pt,128.8pt) {Biomass};
\node at (333.7pt,114.6pt) {turnover};
\node at (336.1pt,56.4pt) {Calcium};
\node at (336.0pt,42.3pt) {production};
\node at (171.4pt,0.5pt) {benthic cover, \%};
\node[rotate=90] at (13.6pt,124.5pt) {piscivore / herbivore};
\end{scope}
\end{tikzpicture}
\end{document}
